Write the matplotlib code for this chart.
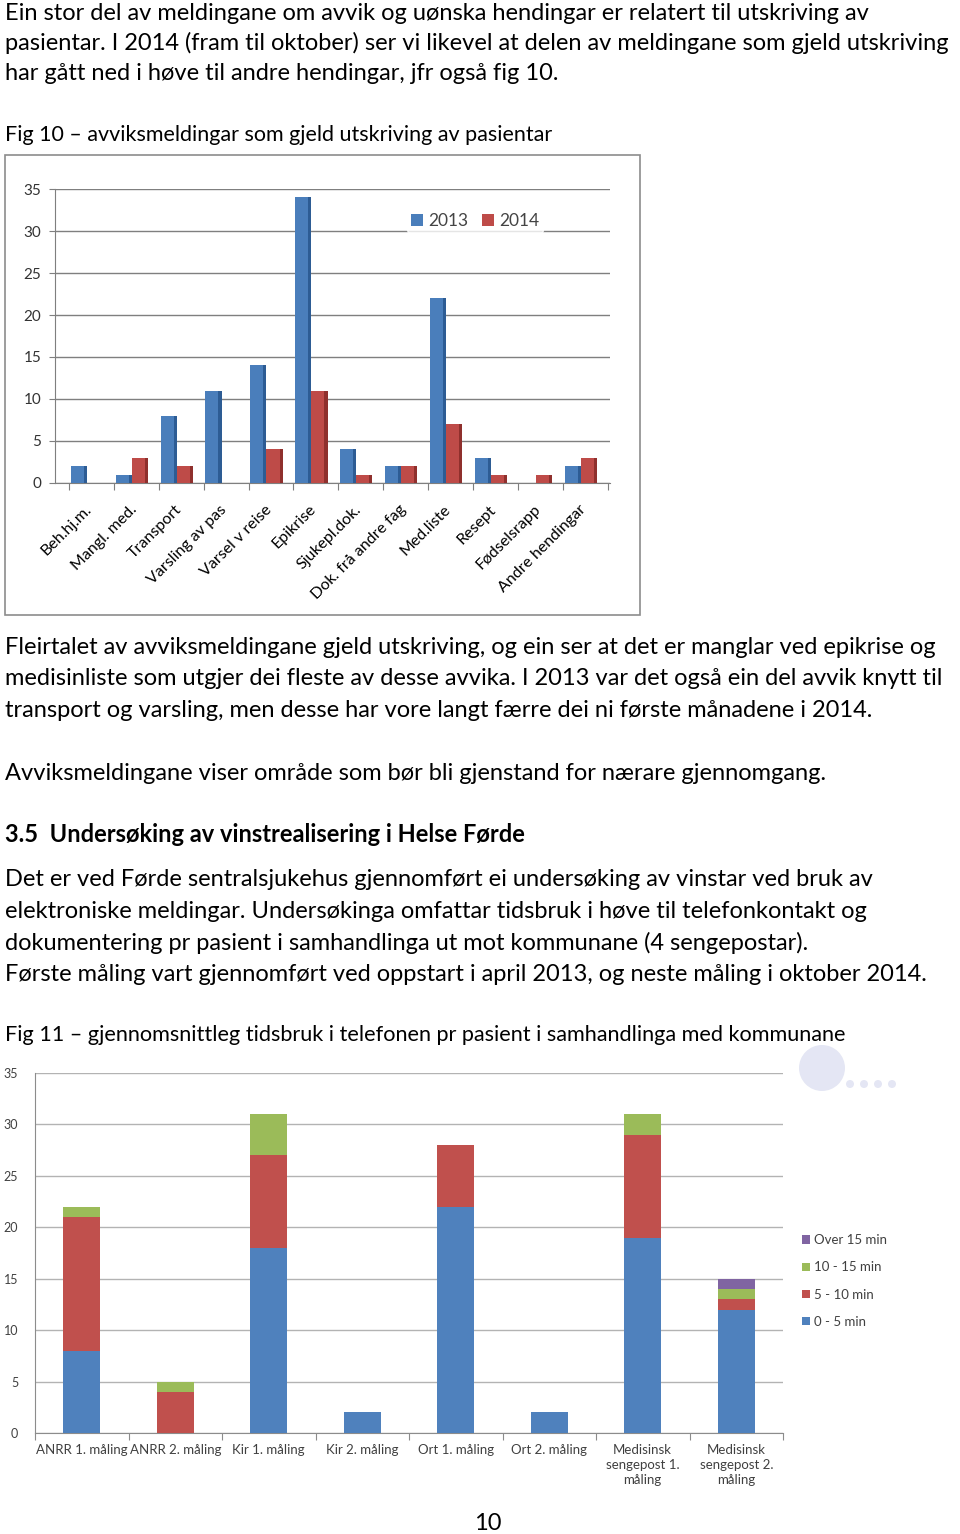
import numpy as np
import matplotlib
matplotlib.use("Agg")
import matplotlib.pyplot as plt
from matplotlib.patches import Rectangle, Ellipse

# --- data: fig 10 ---
cats10 = ["Beh.hj.m.", "Mangl. med.", "Transport", "Varsling av pas", "Varsel v reise",
          "Epikrise", "Sjukepl.dok.", "Dok. frå andre fag", "Med.liste", "Resept",
          "Fødselsrapp", "Andre hendingar"]
v2013 = [2, 1, 8, 11, 14, 34, 4, 2, 22, 3, 0, 2]
v2014 = [0, 3, 2, 0, 4, 11, 1, 2, 7, 1, 1, 3]

# --- data: fig 11 ---
cats11 = ["ANRR 1. måling", "ANRR 2. måling", "Kir 1. måling", "Kir 2. måling",
          "Ort 1. måling", "Ort 2. måling", "Medisinsk\nsengepost 1.\nmåling",
          "Medisinsk\nsengepost 2.\nmåling"]
min0_5 = [8, 0, 18, 2, 22, 2, 19, 12]
min5_10 = [13, 4, 9, 0, 6, 0, 10, 1]
min10_15 = [1, 1, 4, 0, 0, 0, 2, 1]
over15 = [0, 0, 0, 0, 0, 0, 0, 1]
series11 = ["0 - 5 min", "5 - 10 min", "10 - 15 min", "Over 15 min"]

W, H = 960, 1534
body = ["Lato", "DejaVu Sans"]

fig = plt.figure(figsize=(W / 100, H / 100), dpi=100)
fig.patch.set_facecolor("white")


def ptext(x, y, s, **kw):
    kw.setdefault("fontsize", 17)
    kw.setdefault("family", body)
    fig.text(x / W, 1 - y / H, s, va="center", ha="left", color="black", **kw)


ptext(5, 13, "Ein stor del av meldingane om avvik og uønska hendingar er relatert til utskriving av")
ptext(5, 43, "pasientar. I 2014 (fram til oktober) ser vi likevel at delen av meldingane som gjeld utskriving")
ptext(5, 74, "har gått ned i høve til andre hendingar, jfr også fig 10.")
ptext(5, 135, "Fig 10 – avviksmeldingar som gjeld utskriving av pasientar", fontsize=15.5)

ptext(5, 648, "Fleirtalet av avviksmeldingane gjeld utskriving, og ein ser at det er manglar ved epikrise og")
ptext(5, 679, "medisinliste som utgjer dei fleste av desse avvika. I 2013 var det også ein del avvik knytt til")
ptext(5, 711, "transport og varsling, men desse har vore langt færre dei ni første månadene i 2014.")
ptext(5, 773, "Avviksmeldingane viser område som bør bli gjenstand for nærare gjennomgang.")
ptext(5, 835, "3.5  Undersøking av vinstrealisering i Helse Førde", fontweight="bold")
ptext(5, 880, "Det er ved Førde sentralsjukehus gjennomført ei undersøking av vinstar ved bruk av")
ptext(5, 911, "elektroniske meldingar. Undersøkinga omfattar tidsbruk i høve til telefonkontakt og")
ptext(5, 943, "dokumentering pr pasient i samhandlinga ut mot kommunane (4 sengepostar).")
ptext(5, 974, "Første måling vart gjennomført ved oppstart i april 2013, og neste måling i oktober 2014.")
ptext(5, 1035, "Fig 11 – gjennomsnittleg tidsbruk i telefonen pr pasient i samhandlinga med kommunane",
      fontsize=15.6)
fig.text(488 / W, 1 - 1523 / H, "10", ha="center", va="center", fontsize=17, family=body)

# frame around fig 10
fig.patches.append(Rectangle((5 / W, 1 - 615 / H), 635 / W, 460 / H, transform=fig.transFigure,
                             fill=False, edgecolor="#8c8c8c", linewidth=1.2))

# ---------- Fig 10 ----------
ax1 = fig.add_axes([55 / W, 1 - 483 / H, 555 / W, 294 / H])
x = np.arange(len(cats10))
bw = 0.29
side = 0.07
blue, blue_d = "#4a7ebb", "#2d5c94"
red, red_d = "#be4b48", "#8f302d"
ax1.bar(x - bw - side, v2013, bw, color=blue, zorder=3, align="edge", label="2013")
ax1.bar(x - side, v2013, side, color=blue_d, zorder=3, align="edge")
ax1.bar(x, v2014, bw, color=red, zorder=3, align="edge", label="2014")
ax1.bar(x + bw, v2014, side, color=red_d, zorder=3, align="edge")
ax1.set_xlim(-0.71, 11.65)
ax1.set_ylim(0, 35)
ax1.set_yticks(range(0, 36, 5))
ax1.yaxis.grid(True, color="#7f7f7f", linewidth=1.0, zorder=0)
ax1.set_axisbelow(True)
for s in ["top", "right"]:
    ax1.spines[s].set_visible(False)
ax1.spines["left"].set_color("#7f7f7f")
ax1.spines["bottom"].set_color("#7f7f7f")
ax1.set_xticks(np.arange(-0.5, 12, 1) + 0.1)
ax1.set_xticklabels([])
ax1.set_xticks(x - 0.05, minor=True)
ax1.set_xticklabels(cats10, minor=True, rotation=45, ha="right", rotation_mode="anchor",
                    fontsize=11.5, family=body)
ax1.tick_params(axis="x", which="minor", length=0, pad=14)
ax1.tick_params(axis="x", which="major", length=5, color="#7f7f7f", direction="out")
ax1.tick_params(axis="y", length=4, color="#7f7f7f", labelsize=11, pad=6, colors="#333333")
for t in ax1.get_yticklabels():
    t.set_family(body)
leg1 = ax1.legend(loc="center", bbox_to_anchor=(0.757, 0.891), ncol=2, frameon=True,
                  handlelength=0.7, handleheight=0.7, columnspacing=0.8, handletextpad=0.3,
                  borderpad=0.2, prop={"family": body, "size": 12.5})
leg1.get_frame().set_edgecolor("white")
leg1.get_frame().set_facecolor("white")
for t in leg1.get_texts():
    t.set_color("#444444")
leg1.set_zorder(4)

# ---------- Fig 11 ----------
ax2 = fig.add_axes([35 / W, 101 / H, 748 / W, 360 / H])
x2 = np.arange(len(cats11))
cols = ["#4f81bd", "#c0504d", "#9bbb59", "#8064a2"]
bottom = np.zeros(len(cats11))
for vals, c, lab in zip([min0_5, min5_10, min10_15, over15], cols, series11):
    ax2.bar(x2, vals, 0.4, bottom=bottom, color=c, label=lab, zorder=3)
    bottom += np.array(vals)
ax2.set_xlim(-0.5, 7.5)
ax2.set_ylim(0, 35)
ax2.set_yticks(range(0, 36, 5))
ax2.yaxis.grid(True, color="#b3b3b3", linewidth=1.0, zorder=0)
ax2.set_axisbelow(True)
for s in ["top", "right"]:
    ax2.spines[s].set_visible(False)
ax2.spines["left"].set_color("#8c8c8c")
ax2.spines["bottom"].set_color("#8c8c8c")
ax2.set_xticks(np.arange(-0.5, 8, 1))
ax2.set_xticklabels([])
ax2.set_xticks(x2, minor=True)
ax2.set_xticklabels(cats11, minor=True, fontsize=9.5, family=body, color="#404040",
                    linespacing=1.3)
ax2.tick_params(axis="x", which="minor", length=0, pad=8)
ax2.tick_params(axis="x", which="major", length=5, color="#8c8c8c")
ax2.tick_params(axis="y", length=0, labelsize=9, pad=12, colors="#404040")
for t in ax2.get_yticklabels():
    t.set_family(body)
h, l = ax2.get_legend_handles_labels()
leg2 = ax2.legend(h[::-1], l[::-1], loc="center left", bbox_to_anchor=(1.01, 0.422), frameon=False,
                  handlelength=0.6, handleheight=0.6, handletextpad=0.3, labelspacing=1.15,
                  prop={"family": body, "size": 9.5})
for t in leg2.get_texts():
    t.set_color("#404040")

# faint decorative logo shapes near fig 11
fig.patches.append(Ellipse((822 / W, 1 - 1068 / H), 46 / W, 46 / H, transform=fig.transFigure,
                           facecolor="#e4e6f4", edgecolor="none"))
for dx in [850, 864, 878, 892]:
    fig.patches.append(Ellipse((dx / W, 1 - 1084 / H), 8 / W, 8 / H, transform=fig.transFigure,
                               facecolor="#e4e6f4", edgecolor="none"))

fig.savefig("out.png", dpi=100, facecolor="white")
